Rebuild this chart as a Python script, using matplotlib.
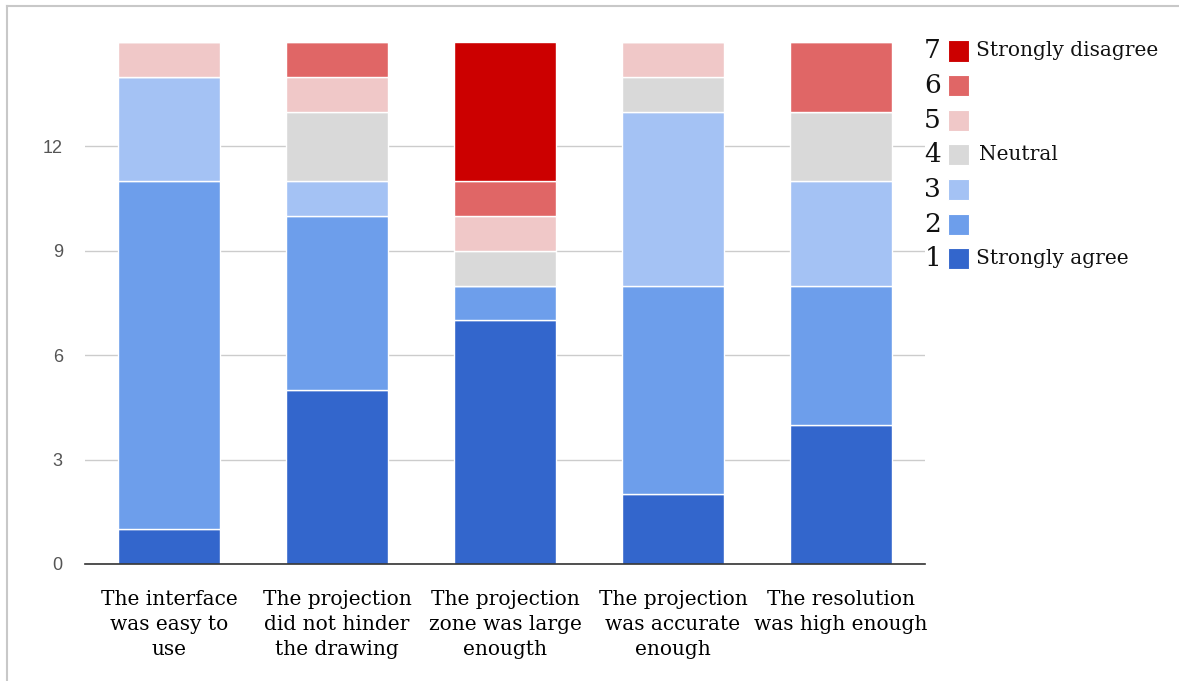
import numpy as np
import matplotlib
matplotlib.use("Agg")
import matplotlib.pyplot as plt
from matplotlib.patches import Rectangle
from matplotlib.lines import Line2D

# --- data ---
QUESTIONS = [
    "The interface\nwas easy to\nuse",
    "The projection\ndid not hinder\nthe drawing",
    "The projection\nzone was large\nenougth",
    "The projection\nwas accurate\nenough",
    "The resolution\nwas high enough",
]
# answer counts per likert level (1 = strongly agree ... 7 = strongly disagree)
level_1 = [1, 5, 7, 2, 4]
level_2 = [10, 5, 1, 6, 4]
level_3 = [3, 1, 0, 5, 3]
level_4 = [0, 2, 1, 1, 2]
level_5 = [1, 1, 1, 1, 0]
level_6 = [0, 1, 1, 0, 2]
level_7 = [0, 0, 4, 0, 0]

LEVELS = ["1", "2", "3", "4", "5", "6", "7"]
LEVEL_NAMES = ["Strongly agree", "", "", "Neutral", "", "", "Strongly disagree"]
COLORS = ["#3366cc", "#6d9eeb", "#a4c2f4", "#d9d9d9", "#f0c8c8", "#e06666", "#cc0000"]

counts = [level_1, level_2, level_3, level_4, level_5, level_6, level_7]

plt.rcParams["font.serif"] = ["DejaVu Serif"]

fig = plt.figure(figsize=(11.79, 6.81), dpi=100)
ax = fig.add_axes([85 / 1179, 1 - 564 / 681, 840 / 1179, 522 / 681])

x = np.arange(len(QUESTIONS))
bottom = np.zeros(len(QUESTIONS))
for vals, col in zip(counts, COLORS):
    vals = np.array(vals)
    ax.bar(x, vals, bottom=bottom, width=0.61, color=col,
           edgecolor="white", linewidth=1, zorder=3)
    bottom += vals

ax.set_xlim(-0.5, len(QUESTIONS) - 0.5)
ax.set_ylim(0, 15)
ax.set_yticks([0, 3, 6, 9, 12])
ax.yaxis.grid(True, color="#cccccc", linewidth=1, zorder=0)
ax.tick_params(axis="y", length=0, pad=16, labelsize=13, labelcolor="#555555")
for lbl in ax.get_yticklabels():
    lbl.set_family("Liberation Sans")

ax.set_xticks(x)
ax.set_xticklabels(QUESTIONS, family="serif", fontsize=14.5,
                   linespacing=1.38, va="top")
ax.tick_params(axis="x", length=0, pad=19)

for side in ["top", "right", "left"]:
    ax.spines[side].set_visible(False)
ax.spines["bottom"].set_color("#333333")
ax.spines["bottom"].set_linewidth(1.2)
ax.spines["bottom"].set_zorder(4)

# legend, 7 at the top down to 1
W, H = 1179, 681
row_y0 = 51
row_gap = 34.6
for i, (lev, name, col) in enumerate(reversed(list(zip(LEVELS, LEVEL_NAMES, COLORS)))):
    yc = row_y0 + i * row_gap
    fig.text(941 / W, 1 - yc / H, lev, ha="right", va="center",
             family="serif", fontsize=19, color="#111111")
    fig.patches.append(Rectangle((948 / W, 1 - (yc + 10.5) / H), 21 / W, 21 / H,
                                 transform=fig.transFigure, facecolor=col,
                                 edgecolor="white", linewidth=0.8))
    if name:
        dx = 979 if name == "Neutral" else 976
        fig.text(dx / W, 1 - yc / H, name, ha="left", va="center",
                 family="serif", fontsize=14.5, color="#111111")

# thin frame at top and left of the image
fig.lines.append(Line2D([7 / W, 1], [1 - 6 / H, 1 - 6 / H], transform=fig.transFigure,
                        color="#c8c8c8", linewidth=1.5))
fig.lines.append(Line2D([7 / W, 7 / W], [0, 1 - 6 / H], transform=fig.transFigure,
                        color="#c8c8c8", linewidth=1.5))

fig.savefig("out.png", dpi=100)
